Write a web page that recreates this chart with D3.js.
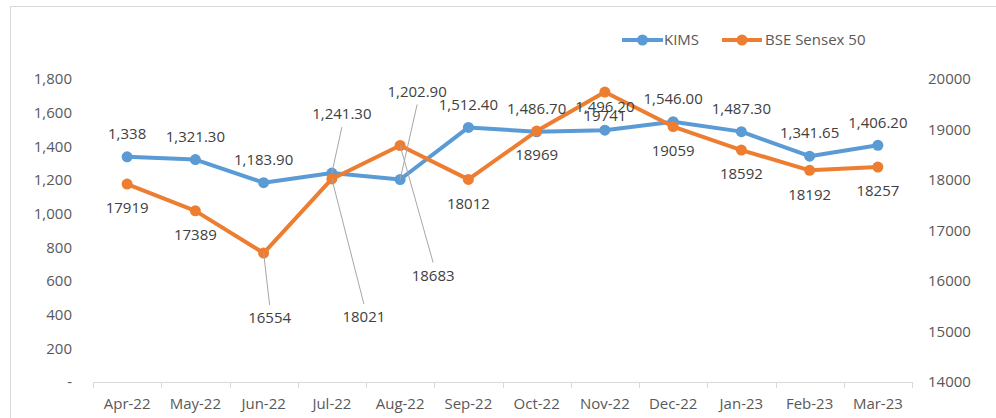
<!DOCTYPE html>
<html><head><meta charset="utf-8">
<script src="https://cdn.jsdelivr.net/npm/d3@7/dist/d3.min.js"></script>
<style>body{margin:0;background:#fff;} svg{display:block;} text{font-family:"Open Sans",sans-serif;font-size:15px;fill:#595959;} text.dl{fill:#404040;}</style>
</head><body>
<svg id="c" width="996" height="418"></svg>
<script>
const months = ["Apr-22","May-22","Jun-22","Jul-22","Aug-22","Sep-22","Oct-22","Nov-22","Dec-22","Jan-23","Feb-23","Mar-23"];
const kims = [1338,1321.30,1183.90,1241.30,1202.90,1512.40,1486.70,1496.20,1546.00,1487.30,1341.65,1406.20];
const kimsLabels = ["1,338","1,321.30","1,183.90","1,241.30","1,202.90","1,512.40","1,486.70","1,496.20","1,546.00","1,487.30","1,341.65","1,406.20"];
const sensex = [17919,17389,16554,18021,18683,18012,18969,19741,19059,18592,18192,18257];
const leftTicks = [0,200,400,600,800,1000,1200,1400,1600,1800];
const rightTicks = [14000,15000,16000,17000,18000,19000,20000];
const seriesNames = ["KIMS","BSE Sensex 50"];

const BLUE="#5B9BD5", ORANGE="#ED7D31";
const svg = d3.select("#c");
svg.append("rect").attr("x",10.5).attr("y",6.5).attr("width",1000).attr("height",420)
  .attr("fill","none").attr("stroke","#d9d9d9");

const x = d3.scaleBand().domain(months).range([93,912]);
const cx = m => x(m)+x.bandwidth()/2;
const yL = d3.scaleLinear().domain([0,1800]).range([382,79]);
const yR = d3.scaleLinear().domain([14000,20000]).range([382,79]);

// x axis
const ax = svg.append("g");
ax.append("line").attr("x1",93).attr("x2",912).attr("y1",382.5).attr("y2",382.5).attr("stroke","#d9d9d9");
const bounds = months.map(m=>x(m)).concat([x.range()[1]]);
ax.selectAll(".tk").data(bounds).enter().append("line")
  .attr("x1",d=>Math.round(d)+0.5).attr("x2",d=>Math.round(d)+0.5).attr("y1",382).attr("y2",388).attr("stroke","#d9d9d9");
ax.selectAll(".xl").data(months).enter().append("text")
  .attr("x",d=>cx(d)).attr("y",404).attr("dy","0.35em").attr("text-anchor","middle").text(d=>d);

// left axis
svg.selectAll(".ly").data(leftTicks).enter().append("text")
  .attr("x",72).attr("y",d=>yL(d)).attr("dy","0.35em").attr("text-anchor","end")
  .text(d=>d===0?"-":d3.format(",")(d));
// right axis
svg.selectAll(".ry").data(rightTicks).enter().append("text")
  .attr("x",928).attr("y",d=>yR(d)).attr("dy","0.35em").attr("text-anchor","start")
  .text(d=>d);

// lines
const lineK = d3.line().x((d,i)=>cx(months[i])).y(d=>yL(d));
const lineS = d3.line().x((d,i)=>cx(months[i])).y(d=>yR(d));
svg.append("path").attr("d",lineK(kims)).attr("fill","none").attr("stroke",BLUE).attr("stroke-width",4).attr("stroke-linejoin","round");
svg.selectAll(".mk").data(kims).enter().append("circle").attr("cx",(d,i)=>cx(months[i])).attr("cy",d=>yL(d)).attr("r",5.5).attr("fill",BLUE);
svg.append("path").attr("d",lineS(sensex)).attr("fill","none").attr("stroke",ORANGE).attr("stroke-width",4).attr("stroke-linejoin","round");
svg.selectAll(".ms").data(sensex).enter().append("circle").attr("cx",(d,i)=>cx(months[i])).attr("cy",d=>yR(d)).attr("r",5.5).attr("fill",ORANGE);

// label layout (offsets of label centre from its point; leader lines where moved)
const kOff = {3:{dx:10,dy:-59}, 4:{dx:17,dy:-88}};
const sOff = {2:{dx:6,dy:65}, 3:{dx:32,dy:138}, 4:{dx:33,dy:130}};
const lg = svg.append("g");
const tg = svg.append("g");
kims.forEach((v,i)=>{
  const px=cx(months[i]), py=yL(v);
  const o=kOff[i]||{dx:0,dy:-23};
  const lx=px+o.dx, ly=py+o.dy;
  if(kOff[i]) lg.append("line").attr("x1",lx).attr("y1",ly+13).attr("x2",px).attr("y2",py).attr("stroke","#a6a6a6").attr("stroke-width",1);
  tg.append("text").attr("class","dl").attr("x",lx).attr("y",ly).attr("dy","0.35em").attr("text-anchor","middle").text(kimsLabels[i]);
});
sensex.forEach((v,i)=>{
  const px=cx(months[i]), py=yR(v);
  const o=sOff[i]||{dx:0,dy:24};
  const lx=px+o.dx, ly=py+o.dy;
  if(sOff[i]) lg.append("line").attr("x1",px).attr("y1",py).attr("x2",lx).attr("y2",ly-13).attr("stroke","#a6a6a6").attr("stroke-width",1);
  tg.append("text").attr("class","dl").attr("x",lx).attr("y",ly).attr("dy","0.35em").attr("text-anchor","middle").text(v);
});

// legend
const leg=[{n:seriesNames[0],c:BLUE,x1:622,x2:663,tx:664},{n:seriesNames[1],c:ORANGE,x1:722,x2:762,tx:765}];
leg.forEach(l=>{
  svg.append("line").attr("x1",l.x1).attr("x2",l.x2).attr("y1",40).attr("y2",40).attr("stroke",l.c).attr("stroke-width",4);
  svg.append("circle").attr("cx",(l.x1+l.x2)/2).attr("cy",40).attr("r",5.5).attr("fill",l.c);
  svg.append("text").attr("x",l.tx).attr("y",40).attr("dy","0.35em").text(l.n);
});
</script>
</body></html>
